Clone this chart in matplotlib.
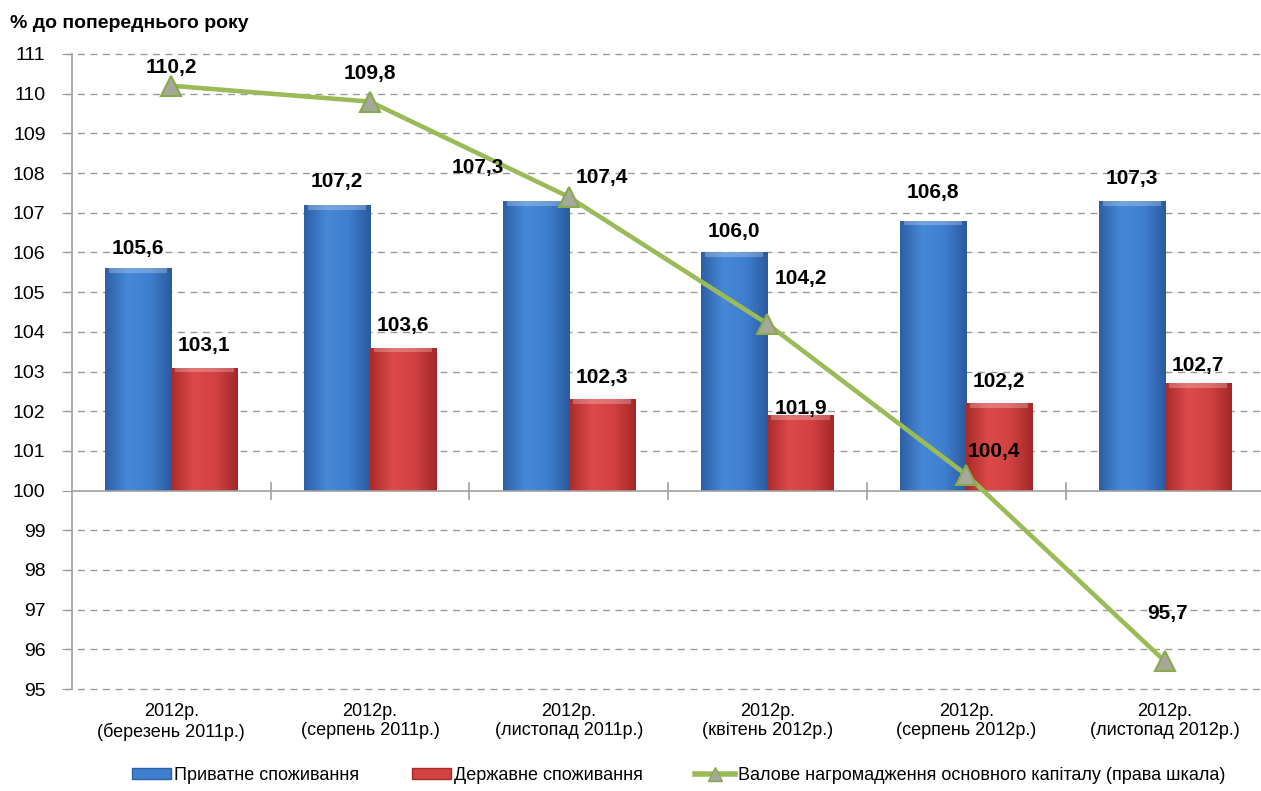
import numpy as np
import matplotlib.pyplot as plt
from matplotlib.colors import LinearSegmentedColormap
from matplotlib.lines import Line2D
from matplotlib.patches import Patch

plt.rcParams['font.family'] = ['Liberation Sans', 'DejaVu Sans']

# -----------------------------
# Data
# -----------------------------
categories = [
    "2012р.\n(березень 2011р.)",
    "2012р.\n(серпень 2011р.)",
    "2012р.\n(листопад 2011р.)",
    "2012р.\n(квітень 2012р.)",
    "2012р.\n(серпень 2012р.)",
    "2012р.\n(листопад 2012р.)",
]
private_cons = [105.6, 107.2, 107.3, 106.0, 106.8, 107.3]
public_cons = [103.1, 103.6, 102.3, 101.9, 102.2, 102.7]
gfcf = [110.2, 109.8, 107.4, 104.2, 100.4, 95.7]

series_names = [
    "Приватне споживання",
    "Державне споживання",
    "Валове нагромадження основного капіталу (права шкала)",
]

# label offsets in points (dx, dy) - styling only
private_off = [(0, 14), (0, 17), (-42, 24), (0, 15), (0, 20), (0, 16)]
public_off = [(0, 16), (0, 16), (0, 16), (0, 5), (0, 16), (0, 13)]
line_off = [(0, 13), (0, 20), (24, 14), (24, 33), (20, 17), (2, 34)]

BASE = 100.0
W = 0.333


def fmt(v):
    return f"{v:.1f}".replace(".", ",")


def gradient_bar(ax, x, width, top, colors):
    bars = ax.bar(x, top - BASE, width, bottom=BASE, color="none",
                  edgecolor="none", zorder=2)
    cmap = LinearSegmentedColormap.from_list("g", colors)
    grad = np.linspace(0, 1, 256).reshape(1, -1)
    for b in bars:
        x0, y0 = b.get_x(), b.get_y()
        w, h = b.get_width(), b.get_height()
        im = ax.imshow(grad, cmap=cmap, aspect="auto",
                       extent=(x0, x0 + w, y0, y0 + h), zorder=2,
                       interpolation="bicubic")
        im.set_clip_path(b)
        # light bevel on top
        ax.fill_between([x0 + w * 0.06, x0 + w * 0.94], y0 + h - 0.12, y0 + h,
                        color="white", alpha=0.25, lw=0, zorder=2.1)
    return bars


fig = plt.figure(figsize=(12.61, 7.91), dpi=100)
ax = fig.add_axes([72 / 1261, 1 - 689 / 791, 1189 / 1261, 635 / 791])

x = np.arange(len(categories))

blue = ["#2d5fa6", "#4688d6", "#3f7fcf", "#2a5a9e"]
red = ["#a82a2a", "#dc4a48", "#d24241", "#a32727"]
gradient_bar(ax, x - W / 2, W, np.array(private_cons), blue)
gradient_bar(ax, x + W / 2, W, np.array(public_cons), red)

ax.plot(x, gfcf, color="#9bbb59", lw=3.3, zorder=4,
        marker="^", markersize=14, markerfacecolor="#a6a89a",
        markeredgecolor="#8aa84c", markeredgewidth=1.5)

lab_kw = dict(textcoords="offset points", ha="center", va="center",
              fontsize=15, fontweight="bold", color="black", zorder=6)
for i in range(len(categories)):
    ax.annotate(fmt(private_cons[i]), (x[i] - W / 2, private_cons[i]),
                xytext=private_off[i], **lab_kw)
    ax.annotate(fmt(public_cons[i]), (x[i] + W / 2, public_cons[i]),
                xytext=public_off[i], **lab_kw)
    ax.annotate(fmt(gfcf[i]), (x[i], gfcf[i]), xytext=line_off[i], **lab_kw)

ax.set_xlim(-0.5, -0.5 + 1189 / 198.7)
ax.set_ylim(95, 111)
ax.set_yticks(np.arange(95, 112, 1))
ax.tick_params(axis="y", labelsize=14, length=7, color="#999999",
               direction="out", pad=12)
for t in ax.get_yticks():
    if t != 100:
        ax.axhline(t, color="#9a9a9a", lw=1, ls=(0, (5, 4)), zorder=1,
                   clip_on=False, xmin=-7 / 1189)

# category axis crossing at 100
ax.axhline(BASE, color="#a0a0a0", lw=1.2, zorder=3)
for b in np.arange(0.5, len(categories) - 0.5, 1):
    ax.plot([b, b], [BASE - 0.2, BASE + 0.2], color="#a0a0a0", lw=1.2, zorder=3)

ax.set_xticks(x)
ax.set_xticklabels(categories, fontsize=13)
ax.tick_params(axis="x", length=0, pad=10)

for s in ["top", "right", "bottom"]:
    ax.spines[s].set_visible(False)
ax.spines["left"].set_color("#a0a0a0")
ax.spines["left"].set_linewidth(1.2)

fig.text(10 / 1261, 1 - 24 / 791, "% до попереднього року", fontsize=14,
         fontweight="bold", va="center", ha="left")

handles = [
    Patch(facecolor="#3f7fcf", edgecolor="#2d5fa6"),
    Patch(facecolor="#d24241", edgecolor="#a82a2a"),
    Line2D([0], [0], color="#9bbb59", lw=4, marker="^", markersize=10,
           markerfacecolor="#a6a89a", markeredgecolor="#8aa84c"),
]
fig.legend(handles, series_names, loc="center", ncol=3,
           bbox_to_anchor=(0.538, 1 - 775 / 791), frameon=False, fontsize=13,
           handlelength=2.2, handleheight=0.55, handletextpad=0.15,
           columnspacing=2.9)

fig.savefig("out.png", dpi=100)
